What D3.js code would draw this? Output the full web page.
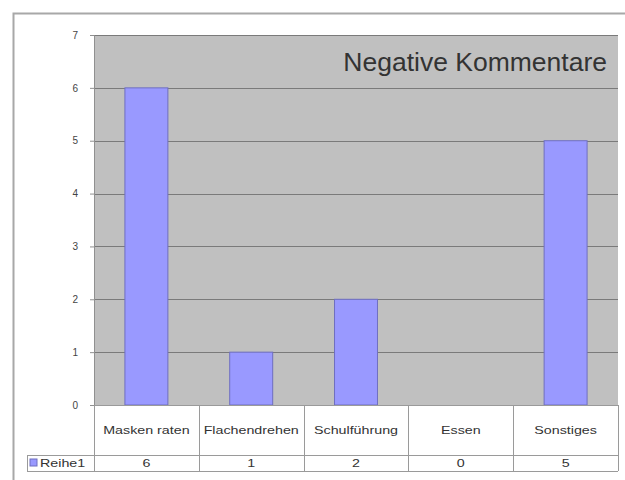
<!DOCTYPE html>
<html><head><meta charset="utf-8">
<script src="https://cdn.jsdelivr.net/npm/d3@7"></script>
<style>body{margin:0;background:#fff}svg{display:block}</style>
</head><body>
<svg id="c" width="625" height="480"></svg>
<script>
const categories = ["Masken raten","Flachendrehen","Schulführung","Essen","Sonstiges"];
const values = [6,1,2,0,5];
const yTicks = [0,1,2,3,4,5,6,7];
const seriesName = "Reihe1";
const title = "Negative Kommentare";

const svg = d3.select("#c");
const font = "Liberation Sans, Arial, sans-serif";
const L = 94, R = 618, T = 35, B = 405;
const row1B = 455, row2B = 471, tableL = 27;
const sx = 1.36; // horizontal stretch of small text, as in the reference

// outer border (cropped: only top and left visible)
svg.append("path").attr("d","M13.5,480 V13.5 H625").attr("fill","none")
  .attr("stroke","#a8a8a8").attr("stroke-width",2);

const x = d3.scaleBand().domain(categories).range([L,R]).paddingInner(0).paddingOuter(0);
const y = d3.scaleLinear().domain([0,7]).range([B,T]);

svg.append("rect").attr("x",L).attr("y",T).attr("width",R-L).attr("height",B-T).attr("fill","#c0c0c0");

// gridlines
svg.append("g").selectAll("line").data(yTicks.filter(d=>d>0)).join("line")
  .attr("x1",L).attr("x2",R).attr("y1",d=>Math.round(y(d))+0.5).attr("y2",d=>Math.round(y(d))+0.5)
  .attr("stroke","#7a7a7a").attr("stroke-width",1);

// bars
const bw = x.bandwidth()*0.41;
svg.append("g").selectAll("rect").data(values).join("rect")
  .attr("x",(d,i)=>x(categories[i])+x.bandwidth()/2-bw/2)
  .attr("y",d=>y(d)).attr("width",bw).attr("height",d=>y(0)-y(d))
  .attr("fill","#9999ff").attr("stroke","#6f6fc0").attr("stroke-width",1);

// y axis
const ax = svg.append("g").attr("transform",`translate(${L},0)`)
  .call(d3.axisLeft(y).tickValues(yTicks).tickSize(4).tickPadding(12).tickFormat(d3.format("d")));
ax.select(".domain").attr("stroke","#909090");
ax.selectAll(".tick line").attr("stroke","#909090");
ax.selectAll("text").attr("font-family",font).attr("font-size",10).attr("fill","#444");

// title
svg.append("text").attr("x",607).attr("y",71).attr("text-anchor","end")
  .attr("font-family",font).attr("font-size",26.5).attr("fill","#333").text(title);

// data table
const tg = svg.append("g");
const lineC = "#9a9a9a";
tg.append("line").attr("x1",L).attr("x2",R).attr("y1",B+0.5).attr("y2",B+0.5).attr("stroke",lineC);
tg.append("line").attr("x1",tableL).attr("x2",R).attr("y1",row1B+0.5).attr("y2",row1B+0.5).attr("stroke",lineC);
tg.append("line").attr("x1",tableL).attr("x2",R).attr("y1",row2B+0.5).attr("y2",row2B+0.5).attr("stroke",lineC);
const bounds = categories.map(c=>x(c)).concat([R]);
tg.selectAll(".v").data(bounds).join("line")
  .attr("x1",d=>Math.round(d)+0.5).attr("x2",d=>Math.round(d)+0.5)
  .attr("y1",B).attr("y2",row2B).attr("stroke",lineC);
tg.append("line").attr("x1",tableL+0.5).attr("x2",tableL+0.5).attr("y1",row1B).attr("y2",row2B).attr("stroke",lineC);

tg.selectAll(".cl").data(categories).join("text")
  .attr("transform",d=>`translate(${x(d)+x.bandwidth()/2},434) scale(${sx},1)`)
  .attr("text-anchor","middle")
  .attr("font-family",font).attr("font-size",10.5).attr("fill","#333").text(d=>d);
tg.selectAll(".vl").data(values).join("text")
  .attr("transform",(d,i)=>`translate(${x(categories[i])+x.bandwidth()/2},467) scale(${sx},1)`)
  .attr("text-anchor","middle")
  .attr("font-family",font).attr("font-size",10.5).attr("fill","#333").text(d=>d);
// legend key
tg.append("rect").attr("x",30).attr("y",459).attr("width",7).attr("height",7).attr("fill","#9999ff").attr("stroke","#6f6fc0");
tg.append("text").attr("transform",`translate(40,467) scale(${sx},1)`)
  .attr("font-family",font).attr("font-size",10.5).attr("fill","#333").text(seriesName);
</script>
</body></html>
